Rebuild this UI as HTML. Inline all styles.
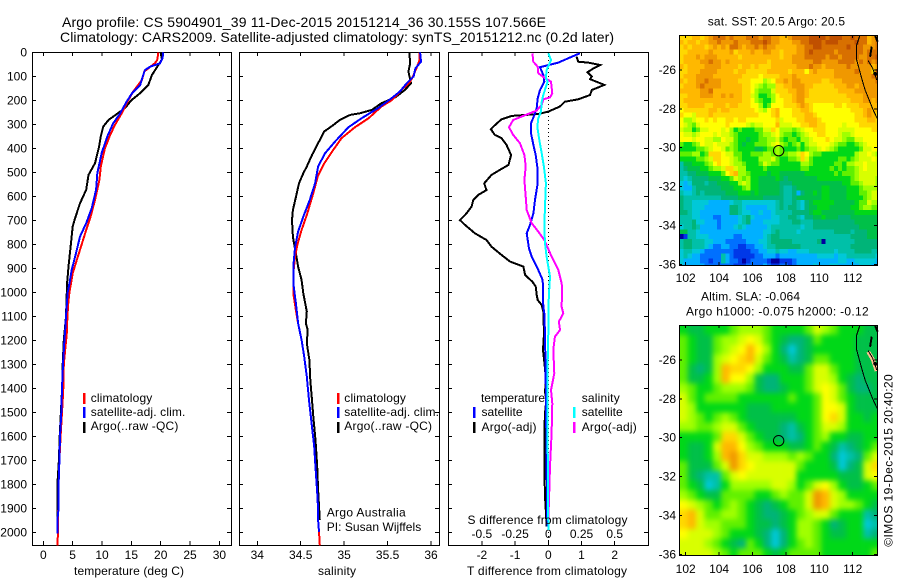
<!DOCTYPE html>
<html lang="en">
<head>
<meta charset="utf-8">
<title>Argo profile</title>
<style>
html,body{margin:0;padding:0;background:#fff;}
svg{display:block;}
text{font-family:"Liberation Sans",Arial,sans-serif;font-size:12px;fill:#000;}
.t{font-size:14px;}
</style>
</head>
<body>
<svg id="fig" xmlns="http://www.w3.org/2000/svg" width="900" height="580" viewBox="0 0 900 580">
<defs>
<clipPath id="clipTop"><rect x="679.5" y="35.5" width="198" height="230"/></clipPath>
<clipPath id="clipBot"><rect x="679.5" y="325.5" width="198" height="230"/></clipPath>
<filter id="soft" x="-5%" y="-5%" width="110%" height="110%" color-interpolation-filters="sRGB"><feGaussianBlur stdDeviation="2.6"/></filter>
</defs>
<text class="t" x="62" y="27" textLength="484">Argo profile: CS 5904901_39 11-Dec-2015 20151214_36 30.155S 107.566E</text>
<text class="t" x="60" y="42" textLength="554">Climatology: CARS2009. Satellite-adjusted climatology: synTS_20151212.nc (0.2d later)</text>
<g id="marks"></g>

<text x="74" y="575" textLength="110">temperature (deg C)</text>
<text x="318" y="575" textLength="38">salinity</text>
<text x="467" y="575" textLength="160">T difference from climatology</text>
<text x="467.5" y="524" textLength="160">S difference from climatology</text>

<g>
<rect x="83" y="393" width="2.5" height="11" fill="#f00"/>
<rect x="83" y="407" width="2.5" height="11" fill="#00f"/>
<rect x="83" y="422" width="2.5" height="11" fill="#000"/>
<text x="90.7" y="402" textLength="61.6">climatology</text>
<text x="90.7" y="416" textLength="94.7">satellite-adj. clim.</text>
<text x="90.7" y="430" textLength="87.7">Argo(..raw -QC)</text>
</g>
<g>
<rect x="337" y="393" width="2.5" height="11" fill="#f00"/>
<rect x="337" y="407" width="2.5" height="11" fill="#00f"/>
<rect x="337" y="422" width="2.5" height="11" fill="#000"/>
<text x="344.3" y="402" textLength="61.6">climatology</text>
<text x="344.3" y="416" textLength="94.7">satellite-adj. clim.</text>
<text x="344.3" y="430" textLength="87.7">Argo(..raw -QC)</text>
</g>
<text x="326.7" y="516.7" textLength="79">Argo Australia</text>
<text x="326.7" y="531" textLength="94.5">PI: Susan Wijffels</text>
<g>
<text x="481" y="402" textLength="64">temperature</text>
<text x="581.7" y="402" textLength="38">salinity</text>
<rect x="473" y="407" width="2.5" height="11" fill="#00f"/>
<rect x="473" y="422" width="2.5" height="11" fill="#000"/>
<rect x="573" y="407" width="2.5" height="11" fill="#0ff"/>
<rect x="573" y="422" width="2.5" height="11" fill="#f0f"/>
<text x="481.5" y="416" textLength="41">satellite</text>
<text x="481.5" y="431" textLength="55">Argo(-adj)</text>
<text x="581.7" y="416" textLength="41">satellite</text>
<text x="581.7" y="431" textLength="55">Argo(-adj)</text>
</g>
<text x="707.7" y="25.7" textLength="137.3">sat. SST: 20.5 Argo: 20.5</text>
<text x="701" y="300.7" textLength="99">Altim. SLA: -0.064</text>
<text x="686" y="315.7" textLength="182.7">Argo h1000: -0.075 h2000: -0.12</text>
<text transform="translate(892.3,546.7) rotate(-90)" textLength="172.4">©IMOS 19-Dec-2015 20:40:20</text>
</svg>
<script>
// ---- axis tick data ----
const depthTicks = [0,100,200,300,400,500,600,700,800,900,1000,1100,1200,1300,1400,1500,1600,1700,1800,1900,2000];
const tempTicks = [0,5,10,15,20,25,30];
const salTicks = [34,34.5,35,35.5,36];
const diffTTicks = [-2,-1,0,1,2];
const diffSTicks = [-0.5,-0.25,0,0.25,0.5];
const lonTicks = [102,104,106,108,110,112];
const latTicks = [-26,-28,-30,-32,-34,-36];

// ---- temperature profiles ----
const tempClimValues = [19.6,19.4,19,17.2,16.8,15.3,14.5,13.35,12.2,11.4,10.5,9.8,9.55,8.8,8.05,7.3,6.5,5.7,5,4.43,4.25,4.1,4,3.5,3.4,3.3,3.18,2.95,2.75,2.6,2.55,2.5,2.5,2.4];
const tempClimDepths = [0,32,46,80,115,164,199,254,303,344,400,476,532,615,685,740,803,865,921,1004,1050,1100,1170,1300,1400,1450,1500,1600,1700,1800,1900,1950,2000,2054];
const tempSatValues = [20.45,20.3,19.9,18.2,17.3,16.9,16.5,15.2,14.2,13.1,11.9,10.9,9.94,9.2,9,8.24,7.3,6.25,5.57,4.83,4.26,4.15,3.86,3.75,3.6,3.35,3.18,3.07,2.85,2.75,2.6,2.6,2.4,2.4];
const tempSatDepths = [0,25,46,60,74,104,136,168,205,254,296,351,421,504,573,650,712,768,837,907,990,1000,1100,1150,1200,1300,1400,1500,1600,1700,1800,1900,1950,2005];
const tempArgoValues = [20,20.2,18.5,17.9,16.5,15,13.9,12.2,11.1,10.2,9.8,9.5,8.8,7.7,7.3,6.25,5.4,5,4.65,4.3,4,4,3.86,3.5,3.3,3.2,3,2.8,2.65,2.4,2.4,2.4];
const tempArgoDepths = [0,30,95,135,170,200,233,263,282,310,350,393,462,511,573,629,692,726,810,893,976,1000,1100,1200,1300,1400,1500,1600,1700,1800,1900,1950];

// ---- salinity profiles ----
const salClimValues = [35.87,35.87,35.84,35.80,35.76,35.66,35.55,35.43,35.28,35.125,34.97,34.86,34.76,34.695,34.645,34.57,34.51,34.465,34.435,34.415,34.415,34.445,34.47,34.51,34.54,34.57,34.595,34.625,34.655,34.675,34.695,34.70,34.71,34.72];
const salClimDepths = [0,30,60,94,122,157,199,226,275,312,358,414,469,518,587,678,740,796,851,921,1004,1074,1129,1199,1268,1351,1449,1546,1643,1754,1865,1949,1998,2054];
const salSatValues = [35.875,35.885,35.82,35.80,35.72,35.64,35.53,35.39,35.2,35.05,34.895,34.78,34.70,34.665,34.605,34.53,34.47,34.435,34.415,34.415,34.445,34.47,34.51,34.54,34.57,34.595,34.625,34.655,34.675,34.695,34.70,34.71];
const salSatDepths = [0,39,67,101,129,164,196,233,275,312,372,421,476,546,615,685,747,810,893,962,1046,1129,1199,1268,1351,1449,1546,1643,1754,1865,1949,1998];
const salArgoValues = [35.75,35.76,35.74,35.77,35.70,35.59,35.43,35.32,35.18,35.07,34.95,34.86,34.77,34.73,34.68,34.63,34.57,34.53,34.48,34.45,34.41,34.40,34.41,34.43,34.45,34.47,34.51,34.53,34.57,34.56,34.58,34.57,34.60,34.61,34.63,34.645,34.67,34.69,34.70,34.72];
const salArgoDepths = [0,46,80,129,157,187,212,240,254,261,282,307,330,358,393,428,476,504,546,594,657,699,768,810,851,893,949,1004,1080,1129,1157,1212,1282,1365,1449,1518,1615,1726,1823,1949];

// ---- difference profiles ----
const diffTSatValues = [0.95,0.60,0.30,-0.25,-0.15,-0.12,-0.25,-0.32,-0.35,-0.42,-0.52,-0.52,-0.45,-0.38,-0.32,-0.32,-0.40,-0.45,-0.55,-0.65,-0.58,-0.50,-0.30,-0.17,-0.15,-0.12,-0.10,-0.07,-0.05,-0.03];
const diffTSatDepths = [4,25,43,62,94,122,157,192,233,261,296,337,386,428,490,546,615,671,719,754,817,851,907,949,1060,1088,1171,1449,1726,1976];
const diffTArgoValues = [0.85,0.90,1.20,1.56,1.36,1.18,1.31,1.26,1.69,1.31,1.26,0.90,0.50,0.35,0,-0.30,-1.10,-1.41,-1.66,-1.73,-1.61,-1.41,-1.26,-1.12,-1.20,-1.46,-1.71,-1.93,-1.86,-2.11,-2.26,-2.31,-2.46,-2.66,-2.51,-2.21,-1.86,-1.71,-1.41,-1.15,-0.75,-0.70,-0.48,-0.38,-0.35,-0.32,-0.20,-0.15,-0.13,-0.16,-0.12,-0.07,-0.10,-0.06,-0.10,-0.12,-0.12,-0.10,-0.07,-0.05];
const diffTArgoDepths = [18,39,43,53,67,83,101,112,136,157,178,196,206,226,247,257,265,279,310,321,344,358,386,428,469,490,511,546,574,594,615,643,671,699,719,754,782,810,844,872,893,928,956,976,1011,1032,1053,1081,1171,1240,1289,1365,1414,1449,1504,1587,1726,1851,1921,1976];
const diffSSatValues = [0,0.02,-0.013,-0.018,-0.005,-0.038,-0.05,-0.055,-0.075,-0.083,-0.068,-0.05,-0.033,-0.018,-0.025,-0.03,-0.025,-0.013,0.013,0.005,0,0,-0.005,-0.005,0,0];
const diffSSatDepths = [4,32,74,108,122,178,206,247,275,310,365,421,476,546,643,726,796,851,935,1004,1074,1171,1310,1587,1976,1990];
const diffSArgoValues = [-0.12,-0.113,-0.08,-0.075,-0.025,0.02,0.03,0.013,-0.038,-0.05,-0.088,-0.188,-0.264,-0.296,-0.264,-0.213,-0.18,-0.17,-0.18,-0.17,-0.163,-0.125,-0.075,-0.03,0.025,0.075,0.10,0.105,0.10,0.113,0.08,0.088,0.05,0.038,0.045,0.02,0.03,0.025,0.013,0.005,0];
const diffSArgoDepths = [4,39,60,87,108,122,171,188,196,219,243,265,282,312,344,379,428,476,532,601,657,712,747,782,851,907,962,983,1060,1088,1122,1157,1185,1240,1338,1407,1463,1587,1726,1865,1949];

// ---- map fields: colour-scale level per cell, north to south, west to east ----
const sstField = [
[13,13,13,14,14,13,14,15,16,16,16,15,16,15,15,15,16,16,16,15,16,16,15,15,14,14,15,16,16,16,16,17,17,17,17,16,17,17,17,16,16,17,16,16,16,14,15,15],
[14,13,14,14,13,14,14,15,15,16,15,15,15,16,15,15,15,16,16,16,17,16,15,15,14,14,14,15,15,16,16,17,17,17,16,17,17,17,16,16,16,16,17,16,16,14,15,16],
[13,14,13,14,14,14,13,14,15,14,15,14,16,16,15,14,15,15,16,15,16,15,15,14,14,14,14,14,15,15,16,16,17,17,16,16,16,16,16,16,17,16,16,16,15,15,15,16],
[13,13,14,14,14,14,14,15,14,14,14,14,15,13,14,14,14,15,14,14,15,15,14,14,13,14,14,14,15,15,16,17,16,16,16,16,16,15,16,16,16,16,16,16,15,16,16,16],
[13,14,14,14,15,14,15,15,15,14,14,14,14,14,13,14,14,14,14,14,14,14,14,14,13,14,14,15,15,15,16,16,16,16,16,15,16,16,15,16,16,16,16,15,15,16,16,17],
[13,14,14,14,14,15,15,16,15,15,14,15,14,14,14,14,14,14,14,14,14,13,14,14,14,14,14,15,15,15,15,15,16,16,15,15,15,15,16,16,16,16,15,16,15,16,15,16],
[14,13,14,14,14,14,15,15,15,15,14,14,14,14,13,14,14,13,14,13,13,13,14,14,14,14,14,14,15,15,15,16,15,15,14,15,15,15,15,15,16,15,15,15,15,15,14,15],
[13,13,14,14,14,15,15,15,15,14,14,14,14,13,14,14,13,13,13,13,13,14,14,14,14,14,13,14,14,14,12,14,15,14,14,14,14,15,15,15,15,15,16,15,15,15,13,17],
[13,14,14,14,15,15,15,15,14,14,14,14,14,14,14,13,13,13,13,12,13,13,13,13,14,14,14,15,14,14,14,14,14,14,14,14,14,15,15,15,15,15,15,15,15,15,16,16],
[14,13,14,14,15,15,16,15,15,15,14,14,14,14,13,13,13,12,12,12,10,11,12,14,14,15,14,15,15,14,14,14,14,14,13,13,14,14,14,15,15,15,15,15,15,15,15,16],
[13,14,14,14,15,16,15,15,15,15,14,14,14,14,14,13,13,12,11,10,9,10,10,13,13,14,14,15,15,15,14,14,13,13,13,13,13,14,14,14,15,15,14,15,15,15,15,15],
[14,14,14,14,14,15,15,16,14,14,14,14,14,14,14,13,13,12,10,9,9,9,11,13,13,13,14,14,15,15,14,13,13,13,13,13,13,13,14,14,14,14,15,15,15,15,15,15],
[13,13,14,14,14,15,15,15,14,14,15,14,15,14,14,13,13,11,10,8,8,9,10,12,13,13,13,14,15,15,14,13,13,13,13,13,13,13,13,13,14,14,14,14,15,15,15,15],
[13,14,14,14,14,14,14,14,14,14,14,14,14,14,14,13,13,12,10,9,8,8,10,12,12,13,13,14,15,15,13,13,13,13,13,13,13,13,13,13,13,14,14,14,15,15,14,15],
[13,13,14,14,14,14,13,13,14,14,14,13,14,14,13,13,13,12,12,10,8,9,12,12,12,13,13,13,14,15,14,13,12,12,12,12,12,13,13,12,13,13,13,14,14,14,14,14],
[12,13,13,13,13,13,13,14,14,13,14,14,13,13,13,13,13,13,12,11,10,12,13,14,12,12,12,13,13,14,14,13,12,12,12,12,12,12,12,12,12,13,13,13,14,15,14,14],
[13,12,12,11,13,13,13,14,13,13,13,13,13,13,13,13,13,13,13,12,12,12,13,14,12,12,12,13,13,13,14,14,13,12,12,12,12,12,12,12,12,12,13,13,14,15,14,13],
[12,10,10,11,12,12,13,12,13,12,12,13,13,12,13,13,12,12,12,12,12,12,12,13,11,12,12,12,13,13,14,14,14,13,12,12,12,12,12,12,12,12,13,13,13,14,14,13],
[12,11,10,9,11,12,12,12,12,12,12,13,12,12,12,12,11,10,11,11,12,12,12,14,11,11,11,12,12,13,13,14,14,13,13,12,12,12,12,11,12,12,12,13,13,13,13,13],
[11,10,10,8,9,11,11,12,12,12,11,12,10,8,9,8,8,8,9,9,11,11,13,12,10,10,10,9,10,11,12,12,13,13,13,12,12,12,11,11,11,11,12,12,12,12,13,13],
[12,11,11,10,11,12,12,12,11,12,11,11,10,9,8,8,8,8,8,9,10,10,11,12,10,9,9,8,9,10,11,12,12,13,13,12,12,12,11,10,10,11,12,12,12,12,12,12],
[12,12,12,11,12,12,11,11,10,10,12,11,11,9,8,8,7,8,8,9,9,10,10,11,9,8,9,9,8,10,10,11,12,12,12,13,12,11,11,10,9,9,11,11,12,12,12,12],
[9,8,8,9,10,12,11,11,12,11,11,11,10,9,8,7,8,8,9,9,9,10,11,12,10,9,8,9,10,8,10,11,11,12,12,12,11,10,9,9,8,8,9,10,11,12,12,12],
[8,8,8,8,9,9,10,11,12,12,11,9,10,9,8,8,8,8,7,7,8,9,9,10,9,8,8,8,9,8,9,10,10,11,12,11,10,9,8,8,8,8,8,9,11,11,12,12],
[9,9,9,10,10,8,9,13,13,13,12,11,11,9,9,8,8,9,9,9,10,10,9,10,9,9,10,10,11,13,12,10,9,9,8,8,8,8,8,8,8,8,10,11,11,12,11,10],
[8,8,8,8,9,9,10,11,13,13,12,12,11,10,9,8,8,8,8,10,10,10,11,9,8,8,9,9,10,13,11,9,8,8,8,8,8,8,9,9,8,9,10,11,11,11,12,11],
[5,7,7,8,8,8,9,10,12,13,12,12,11,10,10,9,8,8,8,9,11,10,9,9,8,8,8,8,8,10,10,9,8,8,8,8,8,9,9,8,10,10,11,11,12,11,11,11],
[5,6,7,7,7,8,8,9,10,10,11,13,13,11,10,10,8,8,8,8,9,8,8,8,8,8,8,8,8,9,9,8,8,8,8,8,9,8,9,8,9,9,10,11,12,11,11,11],
[5,5,6,6,7,7,7,8,8,8,9,12,13,14,10,10,9,8,8,8,8,7,8,8,7,7,7,7,7,7,8,8,8,8,8,8,8,9,8,9,9,9,10,11,11,11,11,11],
[5,4,5,6,6,6,6,7,7,7,8,8,9,11,10,9,10,8,8,7,7,7,7,8,7,6,7,7,7,7,7,7,7,8,8,8,8,8,8,8,8,9,10,11,11,11,11,10],
[4,3,4,6,6,6,5,6,6,7,7,7,8,8,10,11,10,8,8,7,7,7,7,7,6,6,6,7,7,7,7,7,7,7,7,7,7,7,7,8,8,9,9,10,11,11,11,10],
[4,3,3,5,6,6,6,6,6,6,7,7,7,8,8,9,10,8,8,7,7,7,7,7,6,5,5,6,7,7,7,7,7,7,8,8,7,7,7,7,8,8,8,9,10,10,10,10],
[5,4,4,5,6,5,6,6,6,6,6,7,7,7,8,8,8,7,8,7,7,7,7,7,6,5,5,6,3,6,7,7,8,7,8,8,7,7,7,7,8,8,8,9,9,10,11,11],
[6,5,5,5,5,5,5,5,5,5,6,6,6,6,7,7,7,7,7,7,6,6,6,6,6,5,5,6,7,7,7,7,7,7,8,8,7,7,7,7,8,8,8,8,9,10,11,11],
[6,5,5,4,4,4,4,3,3,3,3,3,4,5,5,4,4,4,4,4,4,4,4,5,6,5,5,6,5,4,6,7,8,8,8,8,8,7,7,7,7,7,8,9,9,11,10,10],
[6,5,5,4,4,4,3,3,3,3,3,3,6,6,5,4,3,3,3,3,3,4,4,5,6,5,6,6,5,4,6,7,7,8,8,8,7,7,7,7,7,8,8,9,10,10,9,9],
[6,6,5,4,4,3,3,3,3,3,3,3,6,6,5,4,4,3,3,4,3,3,4,5,5,5,5,6,6,6,6,7,8,8,7,7,7,7,7,7,7,7,8,8,8,8,8,8],
[5,5,5,4,4,3,3,3,2,2,3,3,3,3,4,5,6,4,3,3,3,3,4,4,5,5,6,6,5,4,6,6,7,7,8,7,7,7,6,6,6,7,7,7,7,7,7,7],
[5,5,5,6,4,4,3,3,3,2,3,3,3,3,4,5,6,3,3,3,4,4,4,4,5,5,5,6,6,5,5,5,6,6,6,6,6,6,6,6,6,6,7,7,7,7,7,7],
[4,5,5,6,5,3,3,3,3,2,3,3,3,4,5,4,3,3,3,3,3,4,5,5,5,5,5,5,5,4,5,5,6,6,6,6,6,6,6,6,6,6,6,7,7,7,7,7],
[7,7,5,5,4,3,3,3,3,3,3,3,3,3,3,3,3,3,3,3,4,4,5,6,5,5,5,5,4,5,5,5,5,5,5,5,5,6,6,6,6,5,6,6,6,7,7,7],
[0,1,5,5,4,4,4,3,3,3,3,3,3,2,2,3,3,3,3,3,4,5,6,6,5,5,5,5,5,5,5,5,5,5,5,5,5,5,5,5,5,6,6,6,6,7,7,7],
[5,6,6,5,5,5,4,4,3,3,3,2,2,2,2,2,3,3,3,4,4,5,6,6,6,6,6,5,5,5,5,5,5,6,0,5,5,5,5,5,5,5,6,6,6,6,6,6],
[5,6,6,5,5,5,4,3,2,2,3,3,2,2,1,1,2,2,3,3,4,5,5,6,6,6,6,6,6,5,5,5,5,5,5,5,5,5,5,5,5,6,6,6,6,6,6,6],
[4,5,5,4,4,3,2,2,2,2,2,2,2,1,1,1,1,2,2,3,3,4,4,5,4,4,3,3,4,4,4,5,5,5,5,5,5,4,5,5,5,5,6,6,6,6,5,5],
[4,5,4,3,3,2,2,2,2,2,5,3,2,1,1,1,1,1,2,2,3,3,3,2,3,3,3,3,3,3,3,3,3,4,4,4,4,3,4,4,5,5,5,5,5,5,5,4],
[4,3,3,3,3,2,2,1,2,2,5,3,2,2,1,0,1,2,2,2,2,1,0,0,1,1,1,2,3,3,3,3,3,3,3,3,3,3,4,4,3,3,4,4,4,4,4,3],
[4,3,3,3,3,3,2,2,2,2,2,2,2,1,1,1,2,2,2,2,3,2,1,1,2,2,1,2,3,3,3,3,4,3,3,3,4,4,3,3,3,3,3,4,4,4,3,3]
];
const slaField = [
[8,7,7,8,8,8,9,10,10,10,9,8,8,8,8,9,11,10,9,8,8,8,7,7],
[9,8,7,7,9,10,10,11,12,11,9,8,7,6,6,7,9,8,8,8,8,7,7,7],
[9,8,7,7,9,10,11,12,14,12,10,8,6,4,6,7,8,8,8,8,8,7,7,7],
[9,8,7,7,10,11,12,13,14,11,9,8,7,5,6,7,9,9,8,8,8,7,7,7],
[9,7,6,7,10,14,13,13,12,10,8,8,8,7,7,9,11,11,9,8,8,7,7,7],
[9,7,7,8,10,14,12,12,10,7,6,6,8,8,8,9,11,11,10,8,7,6,7,7],
[10,9,8,8,9,10,10,10,9,7,6,6,7,8,8,9,11,12,11,9,7,6,6,7],
[11,9,8,9,9,9,9,8,8,8,8,8,8,9,8,8,9,12,11,9,8,7,7,7],
[11,10,8,8,8,8,8,8,7,7,7,8,8,8,8,8,9,12,12,11,8,7,7,7],
[11,10,9,8,9,10,9,8,7,7,7,7,7,7,8,8,9,12,13,11,8,8,7,8],
[10,10,9,9,10,11,11,9,8,7,7,7,6,5,7,8,9,11,11,10,8,8,8,8],
[8,8,8,8,9,13,13,11,9,8,7,7,6,5,6,8,9,10,8,8,7,7,8,8],
[8,7,7,8,11,14,14,12,10,9,8,8,8,7,7,8,9,8,7,5,6,7,8,9],
[8,7,7,8,10,14,15,13,11,11,10,10,10,9,10,9,8,8,6,4,5,6,9,11],
[9,7,7,7,9,11,15,13,12,11,11,11,11,11,9,8,8,8,7,4,6,7,11,13],
[9,7,6,5,5,9,11,12,11,11,11,11,11,11,8,8,8,8,8,7,7,7,11,12],
[9,8,7,4,5,8,10,10,10,10,10,11,11,10,8,9,11,12,10,8,7,7,8,9],
[10,9,8,7,7,9,9,9,9,8,8,9,10,9,9,11,15,14,11,10,8,8,8,8],
[12,11,10,9,8,9,10,9,8,7,6,7,8,9,9,11,15,14,11,10,10,9,8,7],
[13,14,11,9,9,10,10,9,8,7,6,6,7,8,9,10,11,11,9,8,8,8,5,6],
[13,14,11,10,10,9,9,9,8,7,7,6,7,8,10,10,9,8,6,7,8,8,4,5],
[12,11,11,11,10,9,8,8,8,7,6,4,6,8,10,10,9,8,7,7,8,8,5,6],
[11,11,11,10,9,8,7,6,9,8,6,4,6,8,9,10,9,8,8,8,8,8,8,8],
[11,11,11,11,10,9,8,9,9,9,8,7,8,9,9,9,9,8,8,8,8,8,8,9]
];
const levelColors = ['#0000a0','#0038e8','#0070ff','#00b0ff','#00c8d8','#00c0a8','#00b478','#00c048','#00d818','#60f000','#a0ff00','#d8ff00','#ffff00','#ffd800','#ffb800','#f09800','#d87000','#c05000'];

// ---- coastline and float position ----
const coastLon = [112.44,112.24,112.24,112.54,112.74,113.23,113.47];
const coastLat = [-24.2,-24.71,-25.49,-26.43,-27.03,-28.06,-28.49];
const islandALon = [113.14,113.04];
const islandALat = [-24.8,-25.32];
const islandBLon = [112.93,113.2,113.44];
const islandBLat = [-25.52,-25.91,-26.51];
const islandCLon = [113.24,113.48];
const islandCLat = [-26.15,-26.22];
const islandDLon = [113.34,113.5];
const islandDLat = [-24.25,-24.55];
const floatLon = [107.566];
const floatLat = [-30.155];

// ---- axis functions ----
const NS = 'http://www.w3.org/2000/svg';
const root = document.getElementById('marks');
const depthY = d => 52.3 + 0.24 * d;
const tempX = t => 43.3 + 5.87 * t;
const salX = s => 257.3 + 86.85 * (s - 34);
const diffTX = t => 548.3 + 33.2 * t;
const diffSX = s => 548.3 + 132.8 * s;
const lonX = lon => 685.7 + 16.7 * (lon - 102);
const latY = (lat, dy) => 70 + dy + 19.43 * (-26 - lat);
const lat0 = -24.2, lon0 = 101.62;

function mk(tag, attrs, parent) {
  const el = document.createElementNS(NS, tag);
  for (const k in attrs) el.setAttribute(k, attrs[k]);
  (parent || root).appendChild(el);
  return el;
}
function drawProfile(name, xf, vals, depths, color, width) {
  const pts = vals.map((v, i) => xf(v).toFixed(1) + ',' + depthY(depths[i]).toFixed(1)).join(' ');
  const el = mk('polyline', {points: pts, fill: 'none', stroke: color, 'stroke-width': width, 'shape-rendering': 'crispEdges'});
  
  
}
function drawLabel(name, x, y, txt, anchor) {
  const el = mk('text', {x: x, y: y, 'text-anchor': anchor || 'middle'});
  el.textContent = txt;
  
  
}
function tick(x1, y1, x2, y2) {
  const el = mk('line', {x1: x1, y1: y1, x2: x2, y2: y2, stroke: '#000', 'stroke-width': 1, 'shape-rendering': 'crispEdges'});
  
  
}
function frame(name, l, t, r, b) {
  const el = mk('rect', {x: l + 0.5, y: t + 0.5, width: r - l, height: b - t, fill: 'none', stroke: '#000', 'stroke-width': 1, 'shape-rendering': 'crispEdges'});
  
  
}
function panelTicks(l, t, r, b, xs, ys) {
  xs.forEach(x => { tick(x, t, x, t + 4); tick(x, b, x, b - 4); });
  ys.forEach(y => { tick(l, y, l + 4, y); tick(r, y, r - 4, y); });
}

// profile panels
const depthPx = depthTicks.map(depthY);
frame('temperature-axes', 32, 52, 231, 545);
frame('salinity-axes', 239, 52, 439, 545);
frame('difference-axes', 448, 52, 648, 545);
panelTicks(32, 52, 231, 545, tempTicks.map(tempX), depthPx);
panelTicks(239, 52, 439, 545, salTicks.map(salX), depthPx);
panelTicks(448, 52, 648, 545, diffTTicks.map(diffTX), depthPx);
depthTicks.forEach(d => drawLabel('depth-tick-label', 27, depthY(d) + 4, String(d), 'end'));
tempTicks.forEach(t => drawLabel('temperature-tick-label', tempX(t), 559, String(t)));
salTicks.forEach(s => drawLabel('salinity-tick-label', salX(s), 559, String(s)));
diffTTicks.forEach(t => drawLabel('t-difference-tick-label', diffTX(t), 559, String(t)));
diffSTicks.forEach(s => drawLabel('s-difference-tick-label', diffSX(s), 538, String(s)));

const zero = mk('line', {x1: diffTX(0), y1: 52, x2: diffTX(0), y2: 545, stroke: '#000', 'stroke-width': 1, 'stroke-dasharray': '1 3', 'shape-rendering': 'crispEdges'});



drawProfile('temperature-argo-line', tempX, tempArgoValues, tempArgoDepths, '#000', 2);
drawProfile('temperature-climatology-line', tempX, tempClimValues, tempClimDepths, '#f00', 2);
drawProfile('temperature-satellite-line', tempX, tempSatValues, tempSatDepths, '#00f', 2);
drawProfile('salinity-argo-line', salX, salArgoValues, salArgoDepths, '#000', 2);
drawProfile('salinity-climatology-line', salX, salClimValues, salClimDepths, '#f00', 2);
drawProfile('salinity-satellite-line', salX, salSatValues, salSatDepths, '#00f', 2);
drawProfile('t-difference-argo-line', diffTX, diffTArgoValues, diffTArgoDepths, '#000', 2);
drawProfile('t-difference-satellite-line', diffTX, diffTSatValues, diffTSatDepths, '#00f', 2);
drawProfile('s-difference-argo-line', diffSX, diffSArgoValues, diffSArgoDepths, '#f0f', 2);
drawProfile('s-difference-satellite-line', diffSX, diffSSatValues, diffSSatDepths, '#0ff', 2);

// maps
function drawField(field, dy, clipId, step, soft, cellName) {
  const outer = mk('g', {'clip-path': 'url(#' + clipId + ')'});
  
  
  const g = mk('g', soft ? {filter: 'url(#soft)'} : {'shape-rendering': 'crispEdges'}, outer);
  field.forEach((row, j) => {
    row.forEach((level, i) => {
      let x = lonX(lon0 + i * step), x2 = lonX(lon0 + (i + 1) * step);
      let y = latY(lat0 - j * step, dy), y2 = latY(lat0 - (j + 1) * step, dy);
      if (soft && i === 0) x -= 14;
      if (soft && i === row.length - 1) x2 += 14;
      if (soft && j === 0) y -= 14;
      if (soft && j === field.length - 1) y2 += 14;
      const el = mk('rect', {x: x.toFixed(1), y: y.toFixed(1), width: (x2 - x + 0.4).toFixed(1), height: (y2 - y + 0.4).toFixed(1), fill: levelColors[level]}, g);
      
      
    });
  });
}
function drawCoast(name, lons, lats, dy, width, color) {
  const pts = lons.map((lon, i) => lonX(lon).toFixed(1) + ',' + latY(lats[i], dy).toFixed(1)).join(' ');
  const el = mk('polyline', {points: pts, fill: 'none', stroke: color, 'stroke-width': width, 'shape-rendering': 'crispEdges'});
  
  
}
function mapChrome(dy, name) {
  const t = 35 + dy, b = 265 + dy;
  frame(name + '-frame', 679, t, 877, b);
  lonTicks.forEach(lon => {
    tick(lonX(lon), t, lonX(lon), t + 3);
    tick(lonX(lon), b, lonX(lon), b - 3);
    drawLabel(name + '-lon-tick-label', lonX(lon), dy === 0 ? 282 : 573, String(lon));
  });
  latTicks.forEach(lat => {
    tick(679, latY(lat, dy), 682, latY(lat, dy));
    tick(877, latY(lat, dy), 874, latY(lat, dy));
    drawLabel(name + '-lat-tick-label', 676, latY(lat, dy) + 4, String(lat), 'end');
  });
  drawCoast(name + '-coastline', coastLon, coastLat, dy, 1, '#000');
  drawCoast(name + '-island', islandALon, islandALat, dy, 2, '#000');
  drawCoast(name + '-island', islandBLon, islandBLat, dy, 1, '#000');
  drawCoast(name + '-island', islandCLon, islandCLat, dy, 3, '#000');
  drawCoast(name + '-island', islandDLon, islandDLat, dy, 2, '#000');
  const c = mk('circle', {cx: lonX(floatLon[0]), cy: latY(floatLat[0], dy), r: 5.2, fill: 'none', stroke: '#000', 'stroke-width': 1});
  
  
}
drawField(sstField, 0, 'clipTop', 0.25, false, 'sst-cell');
mapChrome(0, 'sst-map');
drawField(slaField, 290, 'clipBot', 0.5, true, 'sla-cell');
drawCoast('sla-map-land-speck', islandBLon, islandBLat, 291, 4, '#ffc090');
mapChrome(290, 'sla-map');
</script>
</body>
</html>
